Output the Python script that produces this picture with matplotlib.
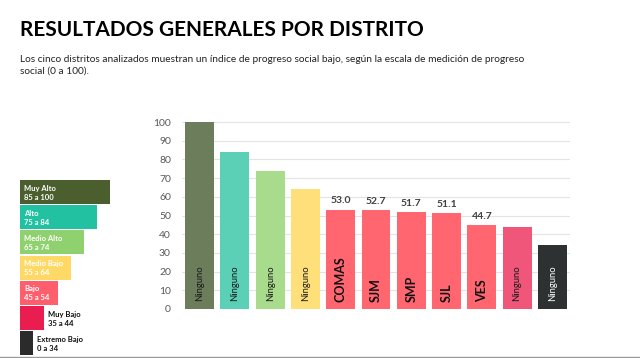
import matplotlib.pyplot as plt

plt.rcParams['font.family'] = ['Lato', 'DejaVu Sans']

# bars of the chart
bar_names = ['Ninguno', 'Ninguno', 'Ninguno', 'Ninguno', 'COMAS', 'SJM',
             'SMP', 'SJL', 'VES', 'Ninguno', 'Ninguno']
bar_values = [100, 84, 74, 64, 53.0, 52.7, 51.7, 51.1, 44.7, 44, 34]
bar_colors = ['#6c7d5c', '#5bd0b6', '#a9db8c', '#ffdf7a', '#ff6670', '#ff6670',
              '#ff6670', '#ff6670', '#ff6670', '#f0557a', '#2d3131']
show_value = [False, False, False, False, True, True, True, True, True, False, False]

# scale legend
leg_names = ['Muy Alto', 'Alto', 'Medio Alto', 'Medio Bajo', 'Bajo', 'Muy Bajo', 'Extremo Bajo']
leg_ranges = ['85 a 100', '75 a 84', '65 a 74', '55 a 64', '45 a 54', '35 a 44', '0 a 34']
leg_colors = ['#4b5e2d', '#22c1a1', '#8fd16f', '#ffd966', '#ff5f6d', '#ea1d50', '#2b2b2b']
leg_widths = [90, 77, 64, 51, 38, 24, 13]

fig = plt.figure(figsize=(6.4, 3.58), dpi=100)

fig.text(20 / 640, 1 - 30 / 358, 'RESULTADOS GENERALES POR DISTRITO',
         fontsize=15, fontweight='bold', color='black', va='center')
fig.text(20 / 640, 1 - 65 / 358,
         'Los cinco distritos analizados muestran un índice de progreso social bajo, según la escala de medición de progreso\nsocial (0 a 100).',
         fontsize=7.3, color='#222222', va='center', linespacing=1.35)

ax = fig.add_axes([182 / 640, 1 - 309 / 358, 388 / 640, 187 / 358])
x = range(len(bar_values))
ax.bar(x, bar_values, width=0.82, color=bar_colors, zorder=2)
ax.set_xlim(-0.5, len(bar_values) - 0.5)
ax.set_ylim(0, 100)
ax.set_yticks(range(0, 101, 10))
ax.tick_params(axis='y', length=0, labelsize=7.5, labelcolor='#595959', pad=8)
ax.set_xticks([])
ax.grid(axis='y', color='#e3e3e3', linewidth=0.8, zorder=0)
for s in ax.spines.values():
    s.set_visible(False)

for i, (name, v) in enumerate(zip(bar_names, bar_values)):
    if name == 'Ninguno':
        tcol = '#ffffff' if i == len(bar_values) - 1 else '#1a1a1a'
        ax.text(i, 4.5, name, rotation=90, ha='center', va='bottom',
                fontsize=6.8, color=tcol, zorder=3)
    else:
        ax.text(i, 4, name, rotation=90, ha='center', va='bottom',
                fontsize=9, fontweight='bold', color='#111111', zorder=3)
    if show_value[i]:
        ax.text(i, v + 2.5, f'{v:.1f}', ha='center', va='bottom',
                fontsize=7.5, fontweight='bold', color='#404040', zorder=3)

# legend drawn as a staircase of boxes, pixel units
lax = fig.add_axes([0, 0, 1, 1])
lax.set_xlim(0, 640)
lax.set_ylim(358, 0)
lax.axis('off')
top = 180
for k in range(len(leg_names)):
    y0 = top + k * 25.2
    lax.barh(y0 + 12, leg_widths[k], height=24, left=20, color=leg_colors[k])
    inside = leg_widths[k] > 30
    tx = 24 if inside else 20 + leg_widths[k] + 4
    tcol = 'white' if inside else '#111111'
    lax.text(tx, y0 + 8, leg_names[k], fontsize=5.5, fontweight='bold',
             color=tcol, va='center')
    lax.text(tx, y0 + 17, leg_ranges[k], fontsize=5.5, fontweight='bold',
             color=tcol, va='center')

lax.plot([0, 640], [356.5, 356.5], color='#9a9a9a', linewidth=1)

fig.savefig('out.png', dpi=100)
